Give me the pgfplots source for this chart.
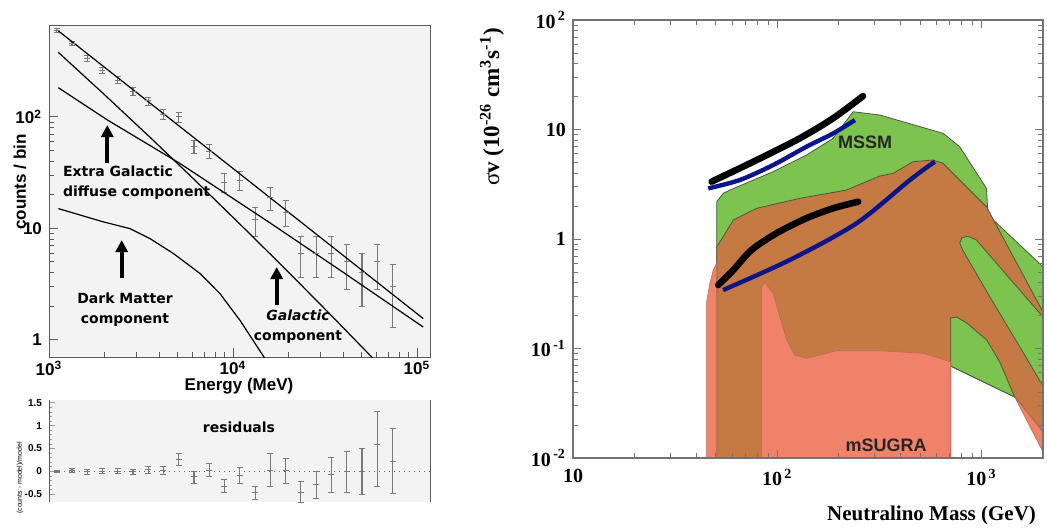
\documentclass[border=0pt]{standalone}
\usepackage{pgfplots}
\pgfplotsset{compat=1.18}
\usepackage{pgfplotstable}
\usepackage{fontspec}
\setmainfont{Liberation Sans}
\newfontfamily\tms{Liberation Serif}
\newfontfamily\cmc{DejaVu Sans}
\usetikzlibrary{arrows.meta}

\definecolor{rootbg}{RGB}{243,243,243}
\definecolor{errgray}{RGB}{120,120,120}
\definecolor{mssm}{RGB}{125,195,80}
\definecolor{overlap}{RGB}{196,122,66}
\definecolor{sugra}{RGB}{240,130,105}
\definecolor{edge}{RGB}{70,90,60}
\definecolor{navy}{RGB}{10,20,140}

% counts per bin
\pgfplotstableread{
E      N    err
1102   593  24.4
1334   457  21.4
1614   335  18.3
1953   263  16.2
2364   214  14.6
2862   170  13.0
3462   139  11.8
4190   106  10.3
5071   100  10.0
6138   54   7.3
7430   49   7.0
8990   26   5.1
10880  27   5.2
13180  12   3.5
15950  19   4.4
19310  14   3.7
23370  6    2.4
28310  6    2.4
34270  6    2.4
41500  5    2.2
50230  4    2.0
60810  5    2.2
73620  3    1.7
}\spectrum

% (counts - model)/model
\pgfplotstableread{
E      r      ep    em
1102   0.00   0.02  0.02
1334   0.02   0.04  0.05
1614   -0.01  0.05  0.05
1953   0.01   0.06  0.06
2364   0.01   0.06  0.06
2862   -0.01  0.05  0.05
3462   0.04   0.07  0.08
4190   0.02   0.09  0.09
5071   0.26   0.13  0.13
6138   -0.12  0.12  0.14
7430   0.02   0.15  0.13
8990   -0.32  0.14  0.13
10880  -0.09  0.17  0.17
13180  -0.47  0.14  0.15
15950  0.02   0.37  0.35
19310  0.02   0.27  0.28
23370  -0.45  0.24  0.22
28310  -0.29  0.29  0.29
34270  -0.07  0.37  0.38
41500  0.00   0.44  0.45
50230  0.00   0.51  0.50
60810  0.60   0.72  0.93
73620  0.22   0.71  0.71
}\resid

\begin{document}
\begin{tikzpicture}
\path[use as bounding box] (0,0) rectangle (523.5pt,-263.5pt);

% ---- spectrum panel
\begin{axis}[at={(24.5pt,-12.5pt)}, anchor=north west,
  scale only axis, width=190.5pt, height=166pt,
  xmode=log, ymode=log, xmin=1000, xmax=117700, ymin=0.698, ymax=667,
  axis background/.style={fill=rootbg},
  axis line style={black!65, line width=0.5pt},
  tick align=inside, tick pos=left,
  major tick length=4.5pt, minor tick length=2.5pt,
  tick style={black!65, line width=0.4pt},
  xtick={1000,10000,100000},
  xticklabels={10\textsuperscript{3},10\textsuperscript{4},10\textsuperscript{5}},
  ytick={1,10,100}, yticklabels={1,10,10\textsuperscript{2}},
  ticklabel style={font=\bfseries\fontsize{8.5}{9}\selectfont},
  xticklabel style={yshift=1.5pt},
]
\addplot[only marks, mark=-, mark size=1.5pt, color=errgray,
  error bars/.cd, y dir=both, y explicit,
  error bar style={errgray, line width=0.55pt},
  error mark options={rotate=90, mark size=1.5pt, errgray}]
  table[x=E, y=N, y error=err] {\spectrum};
% total
\addplot[black, line width=0.6pt] coordinates {(1109,601) (10000,34.4) (108100,1.545)};
% galactic
\addplot[black, line width=0.6pt] coordinates {(1122,380) (1995,159) (3548,65.3) (6310,26.3) (11220,10.4) (19950,4.06) (35480,1.55) (56750,0.698) (63100,0.582)};
% extra galactic
\addplot[black, line width=0.6pt] coordinates {(1125,182.4) (2061,94.4) (5152,38.1) (15850,11.2) (38190,4.20) (108100,1.297)};
% dark matter
\addplot[black, line width=0.6pt] coordinates {(1125,15.0) (1972,11.4) (2754,9.93) (3540,8.07) (4742,5.93) (6622,3.92) (8492,2.59) (10910,1.49) (14930,0.675)};
\end{axis}

% ---- residual panel
\begin{axis}[at={(24.5pt,-200pt)}, anchor=north west,
  scale only axis, width=190.5pt, height=51pt,
  xmode=log, xmin=1000, xmax=117700, ymin=-0.67, ymax=1.56,
  axis background/.style={fill=rootbg},
  axis x line=none, axis y line=box,
  axis line style={black!65, line width=0.5pt},
  tick align=inside, tick pos=left,
  major tick length=3pt, minor tick length=1.5pt,
  tick style={black!40, line width=0.4pt},
  ytick={-0.5,0,0.5,1,1.5}, yticklabels={-0.5,0,0.5,1,1.5}, minor y tick num=4,
  yticklabel style={font=\bfseries\fontsize{5}{5}\selectfont},
]
\addplot[black!60, dotted, line width=0.5pt] coordinates {(1000,0) (117700,0)};
\addplot[only marks, mark=-, mark size=1.5pt, color=errgray,
  error bars/.cd, y dir=both, y explicit,
  error bar style={errgray, line width=0.55pt},
  error mark options={rotate=90, mark size=1.5pt, errgray}]
  table[x=E, y=r, y error plus=ep, y error minus=em] {\resid};
\end{axis}

% ---- annihilation cross-section panel
\begin{axis}[at={(286.5pt,-10pt)}, anchor=north west,
  scale only axis, width=235pt, height=219pt,
  xmode=log, ymode=log, xmin=10, xmax=2000, ymin=0.01, ymax=100,
  axis on top,
  axis line style={black!55, line width=0.6pt},
  tick align=inside,
  major tick length=4pt, minor tick length=2.5pt,
  tick style={black!55, line width=0.4pt},
  xtick={10,100,1000},
  xticklabels={10,10\textsuperscript{\,2},10\textsuperscript{\,3}},
  ytick={0.01,0.1,1,10,100},
  yticklabels={10\textsuperscript{\,-2},10\textsuperscript{\,-1},1,10,10\textsuperscript{\,2}},
  ticklabel style={font=\tms\bfseries\fontsize{10}{10}\selectfont},
  xticklabel style={yshift=-2pt},
]
% MSSM envelope
\addplot[fill=mssm, draw=edge, line width=0.4pt] coordinates {
 (50.5,0.277) (50.5,2.19) (54.4,2.615) (58.6,2.80) (95.4,4.12) (139.1,5.85)
 (187.7,8.31) (235.1,14.54) (317.7,13.56) (648.2,9.23) (782.2,6.97) (1057,2.90)
 (1076,1.656) (2000,0.558) (2000,0.01728) (1454,0.0361) (706.7,0.0692) (706.7,0.277)} -- cycle;
% overlap region
\addplot[fill=overlap, draw=edge, line width=0.4pt] coordinates {
 (50.5,0.01) (50.5,0.851) (54.4,1.049) (60.84,1.491) (79.2,1.907) (129,2.353)
 (218.3,2.80) (317.7,3.762) (369,3.981) (462.3,5.08) (578.9,5.27) (648.2,4.913)
 (1057,1.972) (2000,0.2154) (2000,0.01728) (1454,0.0361) (706.7,0.0692) (706.7,0.01)} -- cycle;
% green finger
\addplot[fill=mssm, draw=edge, line width=0.4pt] coordinates {
 (2000,0.194) (944,0.979) (856,1.065) (800,1.021) (782,0.919) (809,0.793)
 (1097,0.297) (1538,0.1038) (2000,0.04545)} -- cycle;
% lower green wedge
\addplot[fill=mssm, draw=edge, line width=0.4pt] coordinates {
 (706.7,0.190) (756,0.194) (846.5,0.171) (1060,0.1196) (1228,0.0752) (1454,0.0361) (706.7,0.0692)} -- cycle;
% mSUGRA
\addplot[fill=sugra, draw=sugra!80!black, line width=0.3pt] coordinates {
 (83.8,0.01) (83.8,0.3667) (86.98,0.399) (95.4,0.319) (102.9,0.1952) (111.1,0.1196)
 (122,0.0872) (139.1,0.0814) (161.6,0.0872) (195,0.0955) (317.7,0.0955) (517.4,0.0904)
 (706.7,0.0758) (706.7,0.01)} -- cycle;
\addplot[fill=sugra, draw=sugra!80!black, line width=0.3pt] coordinates {
 (45.1,0.01) (45.1,0.2676) (46.8,0.3938) (48.6,0.521) (50.5,0.604) (50.5,0.01)} -- cycle;
\addplot[fill=sugra, draw=sugra!80!black, line width=0.3pt] coordinates {
 (1454,0.0361) (2000,0.01728) (2000,0.01135)} -- cycle;
% limit curves
\addplot[navy, line width=2.2pt, smooth] coordinates {(45.9,2.90) (65.6,3.46) (95.5,4.74) (139,6.97) (188,9.22) (240,12.2)};
\addplot[navy, line width=2.2pt, smooth] coordinates {(54.3,0.342) (115,0.643) (244,1.39) (446,3.46) (590,5.08)};
\addplot[black, line width=3.3pt, line cap=round, smooth] coordinates {(47.7,3.34) (79.3,5.26) (129,8.32) (188,12.7) (263,20.2)};
\addplot[black, line width=3.3pt, line cap=round, smooth] coordinates {(51.4,0.380) (60.9,0.521) (74.8,0.794) (99.2,1.13) (139,1.55) (188,1.91) (249,2.19)};
\end{axis}

% ---- labels and annotations (pixel units)
\begin{scope}[x=0.5pt, y=-0.5pt]
\node[rotate=90, font=\bfseries\fontsize{8.5}{9}\selectfont] at (20,182) {counts / bin};
\node[font=\bfseries\fontsize{8.5}{9}\selectfont] at (239,386) {Energy (MeV)};
\node[rotate=90, font=\fontsize{3.5}{4}\selectfont] at (20,478) {(counts - model)/model};

\node[font=\cmc\bfseries\fontsize{7}{10}\selectfont, align=left, anchor=west] at (56,183) {Extra Galactic\\diffuse component};
\node[font=\cmc\bfseries\fontsize{7}{10}\selectfont, align=center] at (125,310) {Dark Matter\\component};
\node[font=\cmc\bfseries\fontsize{7}{10}\selectfont, align=center] at (298,327) {\itshape Galactic\\component};
\node[font=\cmc\bfseries\fontsize{7}{10}\selectfont] at (239,427) {residuals};
\draw[line width=2pt, -{Triangle[length=6pt,width=6pt]}] (107.3,163) -- (107.3,125);
\draw[line width=2pt, -{Triangle[length=6pt,width=6pt]}] (121.7,278) -- (121.7,240);
\draw[line width=2pt, -{Triangle[length=6pt,width=6pt]}] (276.7,305) -- (276.7,267);

\node[font=\bfseries\fontsize{9}{9}\selectfont, text=black!85] at (865,142) {MSSM};
\node[font=\bfseries\fontsize{9}{9}\selectfont, text=black!85] at (886,445) {mSUGRA};
\node[rotate=90, font=\tms\bfseries\fontsize{11.5}{12}\selectfont] at (492,107)
  {\textmd{σ}v (10\textsuperscript{-26} cm\textsuperscript{3}s\textsuperscript{-1})};
\node[anchor=east, font=\tms\bfseries\fontsize{10.5}{11}\selectfont] at (1043,515) {Neutralino Mass (GeV)};
\end{scope}
\end{tikzpicture}
\end{document}
